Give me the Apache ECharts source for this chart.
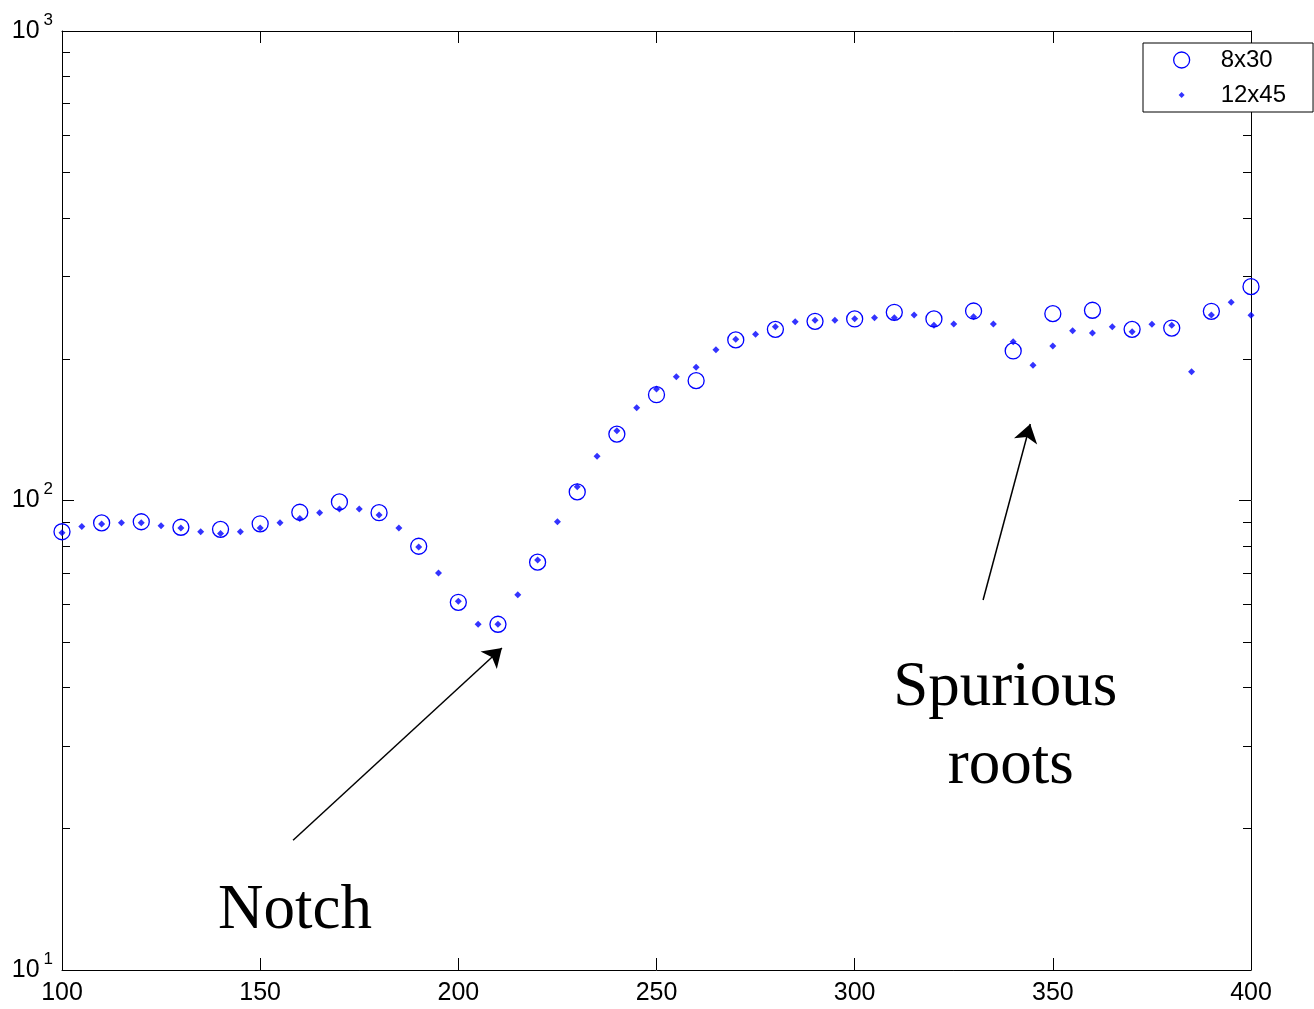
<!DOCTYPE html>
<html>
<head>
<meta charset="utf-8">
<script src="https://cdn.jsdelivr.net/npm/echarts@6/dist/echarts.min.js"></script>
<style>
html,body{margin:0;padding:0;background:#fff;}
#chart{width:1314px;height:1009px;}
</style>
</head>
<body>
<div id="chart"></div>
<script>
// ---- data ----
const x8x30 = [100,110,120,130,140,150,160,170,180,190,200,210,220,230,240,250,260,270,280,290,300,310,320,330,340,350,360,370,380,390,400];
const y8x30 = [85.8,89.6,90.1,87.7,86.8,89.2,94.4,99.3,94.2,79.9,60.7,54.5,73.9,104.3,138.5,168.0,180.0,219.8,231.5,240.8,243.6,251.7,243.6,253.3,208.2,250.0,254.2,231.5,233.0,252.9,285.4];
const x12x45 = [100,105,110,115,120,125,130,135,140,145,150,155,160,165,170,175,180,185,190,195,200,205,210,215,220,225,230,235,240,245,250,255,260,265,270,275,280,285,290,295,300,305,310,315,320,325,330,335,340,345,350,355,360,365,370,375,380,385,390,395,400];
const y12x45 = [85.4,88.0,89.1,89.7,89.7,88.4,87.4,85.8,85.1,85.8,87.4,89.7,91.6,94.2,95.9,95.9,93.1,87.4,79.6,70.1,61.0,54.5,54.5,63.0,74.7,90.1,107.0,124.2,140.8,157.6,172.8,183.5,192.2,209.5,220.5,225.9,234.5,240.3,242.0,242.0,243.9,245.1,245.1,248.4,236.1,237.6,246.3,237.6,217.9,194.1,213.4,230.0,227.4,234.5,228.8,237.3,236.1,188.1,248.4,264.4,248.0];
const seriesNames = ['8x30', '12x45'];
const xTicks = [100,150,200,250,300,350,400];
const yMajor = [10,100,1000];
const yMinor = [20,30,40,50,60,70,80,90,200,300,400,500,600,700,800,900];
const annotations = ['Notch', 'Spurious', 'roots'];

const pairs = (xs, ys) => xs.map((x, i) => [x, ys[i]]);
const FONT = "'Liberation Sans', Arial, sans-serif";
const SERIF = "'Liberation Serif', 'Times New Roman', serif";
const BLUE = '#0000ff';

function yAxisDef(pos, minor, labels) {
  return {
    type: 'log', logBase: 10, min: 10, max: 1000, position: pos,
    axisLine: {show: !minor, lineStyle: {color: '#000', width: 1}},
    axisTick: {show: true, inside: true, length: minor ? 8 : 12, customValues: minor ? yMinor : yMajor,
               lineStyle: {color: '#000', width: 1}},
    axisLabel: labels ? {
      show: true, margin: 9, customValues: yMajor,
      formatter: function (v) {
        const e = Math.round(Math.log10(v));
        return '{b|10}{s|' + e + '}';
      },
      rich: {
        b: {fontSize: 25, fontFamily: FONT, color: '#000'},
        s: {fontSize: 17, fontFamily: FONT, color: '#000', padding: [0, 0, 22, 4]}
      }
    } : {show: false},
    splitLine: {show: false}
  };
}
function xAxisDef(pos, labels) {
  return {
    type: 'value', min: 100, max: 400, interval: 50, position: pos,
    axisLine: {show: true, lineStyle: {color: '#000', width: 1}},
    axisTick: {show: true, inside: true, length: 12, lineStyle: {color: '#000', width: 1}},
    axisLabel: labels ? {show: true, margin: 11, fontSize: 25, fontFamily: FONT, color: '#000',
                         customValues: xTicks} : {show: false},
    splitLine: {show: false}
  };
}

const chart = echarts.init(document.getElementById('chart'), null, {renderer: 'canvas'});
chart.setOption({
  animation: false,
  backgroundColor: '#fff',
  grid: {left: 62, top: 31, right: 63, bottom: 39, containLabel: false},
  xAxis: [xAxisDef('bottom', true), xAxisDef('top', false)],
  yAxis: [yAxisDef('left', false, true), yAxisDef('left', true, false),
          yAxisDef('right', false, false), yAxisDef('right', true, false)],
  legend: {
    left: 1143, top: 43, orient: 'vertical',
    backgroundColor: '#fff', borderColor: '#000', borderWidth: 1,
    padding: [5, 27, 5, 30], itemGap: 11, itemWidth: 20, itemHeight: 16,
    textStyle: {fontSize: 24, fontFamily: FONT, color: '#000', padding: [0, 0, 0, 24]},
    data: [
      {name: seriesNames[0], icon: 'path://M0,8A8,8,0,1,1,16,8A8,8,0,1,1,0,8Z',
       itemStyle: {color: 'rgba(0,0,0,0)', borderColor: BLUE, borderWidth: 1.3}},
      {name: seriesNames[1], icon: 'path://M0,0M16,16M8,5L11,8L8,11L5,8Z',
       itemStyle: {color: BLUE}}
    ],
    selectedMode: false
  },
  series: [
    {
      name: seriesNames[0], type: 'scatter', xAxisIndex: 0, yAxisIndex: 0,
      symbol: 'circle', symbolSize: 16,
      itemStyle: {color: 'rgba(0,0,0,0)', borderColor: BLUE, borderWidth: 1.3, opacity: 1},
      data: pairs(x8x30, y8x30), z: 2, silent: true
    },
    {
      name: seriesNames[1], type: 'scatter', xAxisIndex: 0, yAxisIndex: 0,
      symbol: 'diamond', symbolSize: 7,
      itemStyle: {color: BLUE},
      data: pairs(x12x45, y12x45), z: 3, silent: true,
      markLine: {
        silent: true, symbol: ['none', 'arrow'], symbolSize: 18, precision: 4,
        label: {show: false},
        lineStyle: {color: '#000', width: 1.5, type: 'solid'},
        emphasis: {disabled: true},
        data: [
          [{coord: [158.3, 18.9]}, {coord: [211.0, 48.5]}],
          [{coord: [332.4, 61.4]}, {coord: [344.3, 145.5]}]
        ]
      },
      markPoint: {
        silent: true, symbol: 'circle', symbolSize: 0,
        label: {show: true, position: 'inside', fontSize: 63, fontFamily: SERIF, color: '#000'},
        data: [
          {coord: [158.8, 13.3], label: {formatter: annotations[0]}},
          {coord: [338.0, 39.7], label: {formatter: annotations[1]}},
          {coord: [339.4, 27.2], label: {formatter: annotations[2]}}
        ]
      }
    }
  ]
});
</script>
</body>
</html>
